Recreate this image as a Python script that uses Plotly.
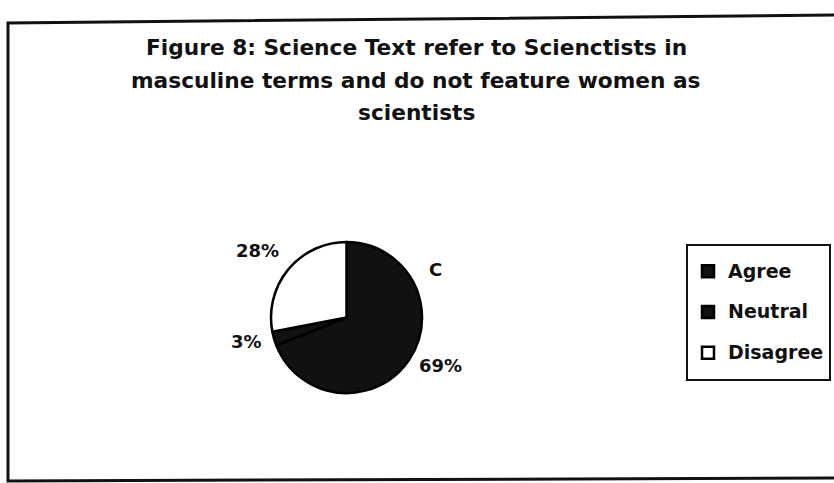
import math
import plotly.graph_objects as go

# ---- data ----
categories = ["Agree", "Neutral", "Disagree"]
values = [69, 3, 28]
slice_colors = ["#111111", "#111111", "#ffffff"]
title_lines = [
    "Figure 8: Science Text refer to Scienctists in",
    "masculine terms and do not feature women as",
    "scientists",
]
stray_label = "C"

W, H = 834, 483


def px(x):
    return x / W


def py(y):
    return 1 - y / H


# pie geometry (pixels)
cx, cy, R = 346.5, 317.5, 75.5

fig = go.Figure()
fig.add_trace(go.Pie(
    labels=[f'<span style="font-size:19px;baseline-shift:5px">{c}</span>' for c in categories],
    values=values,
    sort=False,
    direction="clockwise",
    rotation=0,
    textinfo="none",
    hoverinfo="percent",
    marker=dict(colors=slice_colors, line=dict(color="#000000", width=2.5)),
    domain=dict(x=[px(cx - R), px(cx + R)], y=[py(cy + R), py(cy - R)]),
    showlegend=True,
))

# percentage labels placed at slice mid-angles, outside the pie (Excel-like anchoring)
LABEL_FONT = dict(family="DejaVu Sans", size=18, color="#111111", weight="bold")
annotations = []
total = sum(values)
cum = 0
for v in values:
    txt = f"{v}%"
    mid = (cum + v / 2) / total * 2 * math.pi
    cum += v
    s, c = math.sin(mid), math.cos(mid)
    d = R + 10
    lx = cx + d * s
    ly = cy - d * c
    xa = "right" if s < 0 else "left"
    ya = "bottom" if c > 0.6 else ("top" if c < -0.6 else "middle")
    annotations.append(dict(
        x=px(lx), y=py(ly), xref="paper", yref="paper",
        text=txt, showarrow=False,
        xanchor=xa, yanchor=ya,
        font=LABEL_FONT,
    ))

annotations.append(dict(
    x=px(435), y=py(269), xref="paper", yref="paper",
    text=stray_label, showarrow=False, xanchor="center", yanchor="middle",
    font=LABEL_FONT,
))

# title lines
for t, yb in zip(title_lines, [48, 81, 112]):
    annotations.append(dict(
        x=px(416), y=py(yb), xref="paper", yref="paper",
        text=t, showarrow=False, xanchor="center", yanchor="middle",
        font=dict(family="DejaVu Sans", size=21.7, color="#111111", weight="bold"),
    ))

# outer frame (scanned, slightly skewed, right side cut)
frame = dict(
    type="path", xref="paper", yref="paper",
    path=f"M {px(834)},{py(15)} L {px(8)},{py(23)} L {px(8)},{py(481)} L {px(834)},{py(478)}",
    line=dict(color="#111111", width=3),
)

fig.update_layout(
    width=W, height=H,
    margin=dict(l=0, r=0, t=0, b=0),
    paper_bgcolor="#ffffff",
    plot_bgcolor="#ffffff",
    annotations=annotations,
    shapes=[frame],
    legend=dict(
        x=px(686), y=py(244), xanchor="left", yanchor="top",
        bordercolor="#111111", borderwidth=2, bgcolor="#ffffff",
        font=dict(family="DejaVu Sans", size=29, color="#111111", weight="bold"),
        itemwidth=30,
    ),
)

fig.write_html("out.html", config={"displayModeBar": False},
               post_script="document.body.style.margin='0';")
